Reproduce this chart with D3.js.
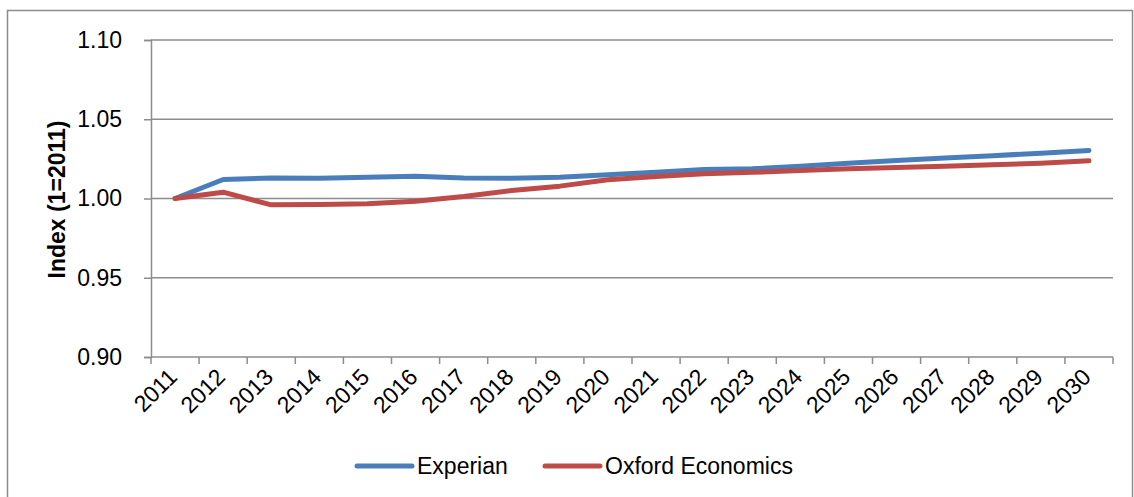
<!DOCTYPE html>
<html>
<head>
<meta charset="utf-8">
<script src="https://cdn.jsdelivr.net/npm/d3@7"></script>
<style>
html,body{margin:0;padding:0;background:#fff;}
svg{display:block;}
text{font-family:"Liberation Sans",Arial,sans-serif;fill:#000;}
</style>
</head>
<body>
<svg id="chart" width="1134" height="497"></svg>
<script>
const years = ["2011","2012","2013","2014","2015","2016","2017","2018","2019","2020","2021","2022","2023","2024","2025","2026","2027","2028","2029","2030"];
const experian = [1.000,1.012,1.013,1.0128,1.0134,1.014,1.013,1.0128,1.0134,1.015,1.0166,1.0183,1.0187,1.0204,1.0223,1.024,1.0256,1.0270,1.0286,1.0303];
const oxford = [1.000,1.004,0.996,0.9962,0.9967,0.9983,1.0013,1.005,1.0078,1.0118,1.0139,1.0156,1.0165,1.0177,1.0187,1.0196,1.0204,1.0213,1.0223,1.0238];
const yTicks = [0.90,0.95,1.00,1.05,1.10];
const seriesNames = ["Experian","Oxford Economics"];
const seriesColors = ["#4a7ebb","#be4b48"];

(function(){
const svg = d3.select("#chart");
const pLeft = 151, pRight = 1113, pTop = 40, pBottom = 357;
const fs = "23px";

svg.append("rect").attr("x",7.5).attr("y",10.5).attr("width",1125).attr("height",500)
  .attr("fill","none").attr("stroke","#8c8c8c").attr("stroke-width",1.5);

const x = d3.scaleBand().domain(years).range([pLeft,pRight]).padding(0);
const y = d3.scaleLinear().domain([0.90,1.10]).range([pBottom,pTop]);

// grid
svg.append("g").selectAll("line").data(yTicks.slice(1)).join("line")
  .attr("x1",pLeft).attr("x2",pRight)
  .attr("y1",d=>y(d)).attr("y2",d=>y(d))
  .attr("stroke","#8c8c8c").attr("stroke-width",1.5);

// y axis
const yAxis = svg.append("g").attr("transform",`translate(${pLeft},0)`)
  .call(d3.axisLeft(y).tickValues(yTicks).tickFormat(d3.format(".2f")).tickSize(7).tickPadding(22));
yAxis.select(".domain").attr("stroke","#8c8c8c").attr("stroke-width",1.5);
yAxis.selectAll(".tick line").attr("stroke","#8c8c8c").attr("stroke-width",1.5);
yAxis.selectAll(".tick text").style("font-size",fs).style("font-family","'Liberation Sans',Arial,sans-serif").attr("fill","#000");

// x axis: ticks at category boundaries
const xg = svg.append("g");
xg.append("line").attr("x1",pLeft).attr("x2",pRight).attr("y1",pBottom).attr("y2",pBottom)
  .attr("stroke","#8c8c8c").attr("stroke-width",1.5);
const bounds = years.map(d=>x(d)).concat([x(years[years.length-1])+x.bandwidth()]);
xg.selectAll("line.tk").data(bounds).join("line").attr("class","tk")
  .attr("x1",d=>d).attr("x2",d=>d).attr("y1",pBottom).attr("y2",pBottom+7)
  .attr("stroke","#8c8c8c").attr("stroke-width",1.5);
xg.selectAll("text").data(years).join("text")
  .attr("transform",d=>`translate(${x(d)+x.bandwidth()/2-8},${pBottom+10}) rotate(-45)`)
  .attr("text-anchor","end").attr("dy","0.7em")
  .style("font-size",fs).text(d=>d);

// y axis title
svg.append("text").attr("transform",`translate(65,${(pTop+pBottom)/2+1}) rotate(-90)`)
  .attr("text-anchor","middle").style("font-size",fs).style("font-weight","bold")
  .text("Index (1=2011)");

// lines
const line = d3.line().x((d,i)=>x(years[i])+x.bandwidth()/2).y(d=>y(d));
[experian,oxford].forEach((s,i)=>{
  svg.append("path").datum(s).attr("d",line).attr("fill","none")
    .attr("stroke",seriesColors[i]).attr("stroke-width",5)
    .attr("stroke-linejoin","round").attr("stroke-linecap","round");
});

// legend
const legendPos = [357,545];
seriesNames.forEach((n,i)=>{
  const g = svg.append("g").attr("transform",`translate(${legendPos[i]},466)`);
  g.append("line").attr("x1",0).attr("x2",55).attr("stroke",seriesColors[i])
    .attr("stroke-width",5).attr("stroke-linecap","round");
  g.append("text").attr("x",60).attr("y",0).attr("dy","0.36em").style("font-size",fs).text(n);
});
})();
</script>
</body>
</html>
